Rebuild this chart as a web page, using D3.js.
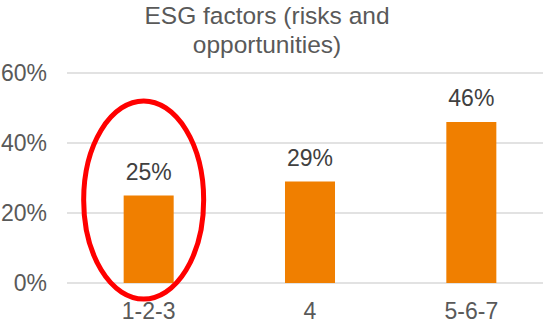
<!DOCTYPE html>
<html>
<head>
<meta charset="utf-8">
<script src="https://cdn.jsdelivr.net/npm/d3@7"></script>
<style>
  html, body { margin: 0; padding: 0; background: #fff; }
  svg { display: block; font-family: "Liberation Sans", Arial, sans-serif; }
</style>
</head>
<body>
<svg id="chart" width="543" height="326"></svg>
<script>
const categories = ["1-2-3", "4", "5-6-7"];
const values = [0.25, 0.29, 0.46];
const yTicks = [0, 0.2, 0.4, 0.6];
const titleLines = ["ESG factors (risks and", "opportunities)"];

const svg = d3.select("#chart");
const W = 543, H = 326;
const plot = { left: 68, right: 552, top: 73, bottom: 283 };

const x = d3.scaleBand()
  .domain(categories)
  .range([plot.left, plot.right])
  .paddingInner(0.69)
  .paddingOuter(0.345);

const y = d3.scaleLinear()
  .domain([0, 0.6])
  .range([plot.bottom, plot.top]);

const pct = d3.format(".0%");

// title
svg.append("g")
  .selectAll("text")
  .data(titleLines)
  .join("text")
  .attr("x", 267)
  .attr("y", (d, i) => 24 + i * 29)
  .attr("text-anchor", "middle")
  .attr("font-size", 24.5)
  .attr("fill", "#595959")
  .text(d => d);

// horizontal gridlines
svg.append("g")
  .selectAll("line")
  .data(yTicks)
  .join("line")
  .attr("x1", 67)
  .attr("x2", W)
  .attr("y1", d => y(d))
  .attr("y2", d => y(d))
  .attr("stroke", "#d9d9d9")
  .attr("stroke-width", 1.5);

// y axis labels
const yAxis = d3.axisLeft(y).tickValues(yTicks).tickFormat(pct).tickSize(0).tickPadding(0);
svg.append("g")
  .attr("transform", "translate(47,0)")
  .call(yAxis)
  .call(g => g.select(".domain").remove())
  .call(g => g.selectAll("text")
    .attr("font-size", 23)
    .attr("font-family", "Liberation Sans, Arial, sans-serif")
    .attr("fill", "#595959"));

// x axis labels
const xAxis = d3.axisBottom(x).tickSize(0).tickPadding(0);
svg.append("g")
  .attr("transform", "translate(0,303)")
  .call(xAxis)
  .call(g => g.select(".domain").remove())
  .call(g => g.selectAll("text")
    .attr("font-size", 23)
    .attr("font-family", "Liberation Sans, Arial, sans-serif")
    .attr("fill", "#595959"));

// bars
svg.append("g")
  .selectAll("rect")
  .data(values)
  .join("rect")
  .attr("x", (d, i) => x(categories[i]))
  .attr("width", x.bandwidth())
  .attr("y", d => y(d))
  .attr("height", d => y(0) - y(d))
  .attr("fill", "#f07f00");

// value labels
svg.append("g")
  .selectAll("text")
  .data(values)
  .join("text")
  .attr("x", (d, i) => x(categories[i]) + x.bandwidth() / 2)
  .attr("y", d => y(d) - 16)
  .attr("text-anchor", "middle")
  .attr("font-size", 23)
  .attr("fill", "#404040")
  .text(d => pct(d));

// highlight ellipse around the first group
const cx0 = x(categories[0]) + x.bandwidth() / 2 - 5;
svg.append("ellipse")
  .attr("cx", cx0)
  .attr("cy", 200)
  .attr("rx", 60)
  .attr("ry", 99)
  .attr("fill", "none")
  .attr("stroke", "#ff0000")
  .attr("stroke-width", 5);
</script>
</body>
</html>
